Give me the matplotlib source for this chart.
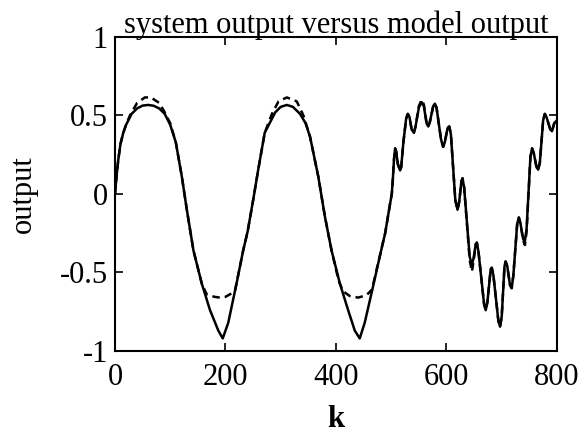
import matplotlib
matplotlib.use("Agg")
import matplotlib.pyplot as plt

plt.rcParams['font.family'] = ['Liberation Serif', 'DejaVu Serif']

# ---- data ----
# k < 500: smooth part (system output, solid)
k_early_sys = [0, 3, 6, 10, 15, 20, 30, 40, 50, 60, 70, 80, 90, 100, 110, 121, 130, 142,
               157, 172, 187, 195, 205, 220, 232, 240, 250, 259, 271, 290, 300, 311, 322,
               335, 345, 353, 368, 380, 392, 407, 422, 434, 443, 452, 467, 483, 489, 498]
y_early_sys = [0.00, 0.12, 0.22, 0.32, 0.39, 0.44, 0.51, 0.545, 0.563, 0.567, 0.562, 0.545,
               0.51, 0.44, 0.33, 0.11, -0.10, -0.36, -0.57, -0.74, -0.87, -0.92, -0.82,
               -0.57, -0.36, -0.24, -0.04, 0.15, 0.39, 0.52, 0.555, 0.567, 0.555, 0.51,
               0.45, 0.365, 0.11, -0.145, -0.36, -0.57, -0.74, -0.87, -0.92, -0.82, -0.59,
               -0.34, -0.25, -0.06]

# k < 500: model output (dashed)
k_early_mod = [0, 3, 6, 10, 15, 20, 27, 40, 54, 65, 80, 90, 100, 110, 121, 130, 142, 157,
               166, 180, 190, 200, 210, 217, 232, 240, 250, 259, 271, 284, 296, 311, 329,
               341, 353, 368, 380, 392, 405, 413, 425, 440, 455, 465, 483, 489, 498]
y_early_mod = [0.00, 0.12, 0.22, 0.32, 0.39, 0.44, 0.50, 0.58, 0.615, 0.615, 0.58, 0.52,
               0.45, 0.33, 0.11, -0.10, -0.36, -0.57, -0.64, -0.655, -0.66, -0.655, -0.635,
               -0.62, -0.36, -0.24, -0.04, 0.15, 0.39, 0.51, 0.59, 0.615, 0.59, 0.50, 0.365,
               0.11, -0.145, -0.36, -0.555, -0.62, -0.65, -0.66, -0.645, -0.61, -0.34,
               -0.25, -0.06]

# k >= 500: oscillating part (same k samples for both outputs)
k_late = [501, 503, 505, 507, 509, 512, 516, 518, 522, 527, 530, 533, 537, 541, 544, 550,
          555, 559, 564, 567, 570, 576, 579, 582, 590, 594, 597, 602, 605, 608, 616, 620,
          623, 627, 629, 632, 642, 646, 649, 653, 655, 658, 668, 671, 674, 680, 682, 685,
          694, 697, 700, 705, 707, 710, 715, 718, 721, 728, 731, 734, 739, 742, 745, 752,
          755, 758, 763, 766, 769, 775, 778, 781, 788, 791, 795, 800]
y_late_sys = [0.00, 0.10, 0.22, 0.29, 0.27, 0.19, 0.15, 0.17, 0.33, 0.48, 0.51, 0.49, 0.41,
              0.39, 0.43, 0.55, 0.585, 0.56, 0.45, 0.43, 0.46, 0.56, 0.575, 0.55, 0.35,
              0.30, 0.33, 0.42, 0.43, 0.38, -0.04, -0.10, -0.05, 0.08, 0.10, 0.04, -0.40,
              -0.45, -0.41, -0.32, -0.31, -0.37, -0.70, -0.74, -0.69, -0.48, -0.47, -0.52,
              -0.81, -0.845, -0.78, -0.46, -0.43, -0.46, -0.58, -0.60, -0.52, -0.19, -0.15,
              -0.19, -0.29, -0.30, -0.22, 0.24, 0.29, 0.26, 0.17, 0.155, 0.20, 0.47, 0.51,
              0.49, 0.41, 0.40, 0.45, 0.47]
y_late_mod = [0.00, 0.10, 0.22, 0.29, 0.27, 0.19, 0.15, 0.17, 0.33, 0.48, 0.51, 0.49, 0.41,
              0.39, 0.43, 0.56, 0.60, 0.57, 0.45, 0.43, 0.46, 0.56, 0.575, 0.55, 0.35,
              0.30, 0.33, 0.42, 0.43, 0.38, -0.04, -0.10, -0.05, 0.08, 0.10, 0.04, -0.42,
              -0.495, -0.43, -0.32, -0.31, -0.37, -0.70, -0.74, -0.69, -0.48, -0.47, -0.52,
              -0.81, -0.845, -0.78, -0.46, -0.43, -0.46, -0.58, -0.60, -0.52, -0.19, -0.15,
              -0.19, -0.30, -0.325, -0.24, 0.24, 0.29, 0.26, 0.17, 0.155, 0.20, 0.47, 0.51,
              0.49, 0.41, 0.40, 0.45, 0.47]

xticks = [0, 200, 400, 600, 800]
yticks = [-1, -0.5, 0, 0.5, 1]
yticklabels = ['-1', '-0.5', '0', '0.5', '1']

k_sys = k_early_sys + k_late
y_sys = y_early_sys + y_late_sys
k_mod = k_early_mod + k_late
y_mod = y_early_mod + y_late_mod

fig = plt.figure(figsize=(5.82, 4.33), dpi=100)
ax = fig.add_axes([0.1976, 0.1894, 0.7594, 0.7252])

ax.plot(k_mod, y_mod, color='black', lw=1.8, linestyle=(0, (3, 2)))
ax.plot(k_sys, y_sys, color='black', lw=1.8)

ax.set_xlim(0, 800)
ax.set_ylim(-1, 1)
ax.set_xticks(xticks)
ax.set_xticklabels([str(t) for t in xticks])
ax.set_yticks(yticks)
ax.set_yticklabels(yticklabels)
ax.tick_params(direction='in', top=True, right=True, length=6, width=1.2,
               labelsize=22)
ax.tick_params(axis='x', pad=9)
ax.tick_params(axis='y', pad=5)
for s in ax.spines.values():
    s.set_linewidth(1.5)

ax.set_title('system output versus model output', fontsize=22, pad=3)
ax.set_ylabel('output', fontsize=22, labelpad=16)
ax.set_xlabel('k', fontsize=22, fontweight='bold', labelpad=9)

fig.savefig('out.png', dpi=100)
